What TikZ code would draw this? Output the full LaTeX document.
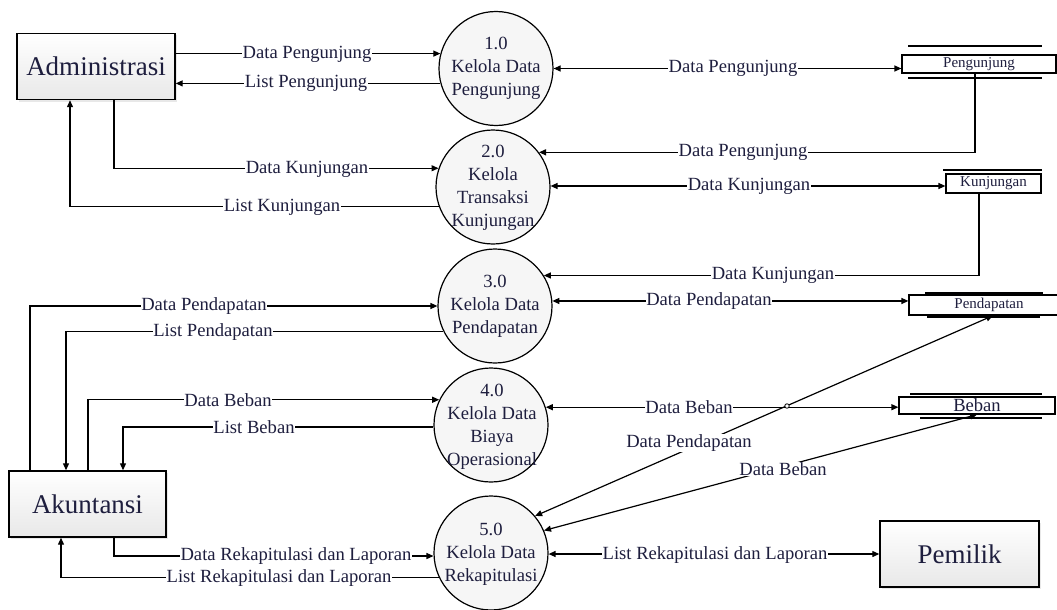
\documentclass[tikz,border=0pt]{standalone}
\usepackage{fontspec}
\setmainfont{Liberation Serif}
\usetikzlibrary{arrows.meta,shadows}
\definecolor{txt}{RGB}{30,30,62}
\begin{document}
\begin{tikzpicture}[x=1pt,y=-1pt,
  ext/.style={draw, line width=1.4pt, minimum width=158pt, minimum height=66pt, inner sep=0pt,
    top color=white, bottom color=gray!18,
    drop shadow={shadow xshift=2pt, shadow yshift=-2pt, fill=gray!35},
    font=\fontsize{27}{30}\selectfont, text=txt},
  proc/.style={circle, draw, line width=1.2pt, minimum size=114pt, inner sep=0pt, fill=gray!7},
  ptext/.style={align=center, font=\fontsize{18.6}{23}\selectfont, text=txt, inner sep=0pt},
  store/.style={draw, line width=1.2pt, fill=white, inner sep=0pt, text=txt, font=\fontsize{15}{15}\selectfont},
  sline/.style={line width=1.4pt},
  flow/.style={line width=1.2pt, -{Triangle[length=7pt,width=6pt]}},
  bi/.style={line width=1.2pt, {Triangle[length=7pt,width=6pt]}-{Triangle[length=7pt,width=6pt]}},
  lbl/.style={fill=white, inner sep=0.6pt, font=\fontsize{18.6}{20}\selectfont, text=txt}
]
\useasboundingbox (0,0) rectangle (1057,610);

% external entities
\node[ext] (adm) at (96,66.5) {Administrasi};
\node[ext, minimum width=157pt] (ak) at (87.5,504) {Akuntansi};
\node[ext, minimum width=159pt] (pm) at (959.5,554) {Pemilik};

% processes
\node[proc] (p1) at (496,68.5) {};
\node[ptext] (t1) at (496,68.5) {1.0\\Kelola Data\\Pengunjung};
\node[proc] (p2) at (493,187) {};
\node[ptext] (t2) at (493,187.5) {2.0\\Kelola\\Transaksi\\Kunjungan};
\node[proc] (p3) at (495,306) {};
\node[ptext] (t3) at (495,306.5) {3.0\\Kelola Data\\Pendapatan};
\node[proc] (p4) at (491,425) {};
\node[ptext] (t4) at (492,427) {4.0\\Kelola Data\\Biaya\\Operasional};
\node[proc] (p5) at (491,553) {};
\node[ptext] (t5) at (491,554.5) {5.0\\Kelola Data\\Rekapitulasi};

% data stores
\node[store, minimum width=154pt, minimum height=18pt] (sp) at (979,64) {Pengunjung};
\draw[sline] (908,46) -- (1042,46);
\draw[sline] (908,78) -- (1042,78);
\node[store, minimum width=95pt, minimum height=19pt] (sk) at (993.5,183.5) {Kunjungan};
\draw[sline] (943,170) -- (1042,170);
\node[store, minimum width=160pt, minimum height=20pt] (sd) at (989,305) {Pendapatan};
\draw[sline] (925,293) -- (1043,293);
\draw[sline] (927,317) -- (1040,317);
\node[store, minimum width=156pt, minimum height=17pt, font=\fontsize{18.6}{18}\selectfont] (sb) at (977,405.5) {Beban};
\draw[sline] (910,394) -- (1042,394);
\draw[sline] (920,418) -- (1042,418);

% helper x positions
\coordinate (c30) at (30,0);
\coordinate (c61) at (61,0);
\coordinate (c66) at (66,0);
\coordinate (c70) at (70,0);
\coordinate (c88) at (88,0);
\coordinate (c114) at (114,0);
\coordinate (c123) at (123,0);
\coordinate (c975) at (975,0);
\coordinate (c979) at (979,0);
\coordinate (c977) at (977,0);
\coordinate (c993) at (993,0);

% Administrasi flows
\draw[flow] (adm.east |- p1.165.9) -- (p1.165.9);
\draw[flow] (p1.195.1) -- (adm.east |- p1.195.1);
\draw[flow] (adm.south -| c114) |- (p2.161.75);
\draw[flow] (p2.200.35) -| (adm.south -| c70);

% Akuntansi flows
\draw[flow] (ak.north -| c30) |- (p3.west);
\draw[flow] (p3.206.9) -| (ak.north -| c66);
\draw[flow] (ak.north -| c88) |- (p4.154.2);
\draw[flow] (p4.182) -| (ak.north -| c123);
\draw[flow] (ak.south -| c114) |- (p5.183);
\draw[flow] (p5.205.8) -| (ak.south -| c61);

% store flows
\draw[bi] (p1.east) -- (sp.west |- p1.east);
\draw[flow] (sp.south -| c975) |- (p2.37.5);
\draw[bi] (p2.1) -- (sk.west |- p2.1);
\draw[flow] (sk.south -| c979) |- (p3.32.6);
\draw[bi] (p3.5) -- (sd.west |- p3.5);
\draw[bi] (p4.18) -- (sb.west |- p4.18);
\draw[bi] (p5.40) -- (sd.south -| c993);
\draw[bi] (p5.23) -- (sb.south -| c977);
\draw[bi] (p5.359) -- (pm.west |- p5.359);
\node[draw, circle, line width=0.8pt, fill=white, inner sep=0pt, minimum size=4.5pt] (hop) at (787,406) {};

% labels
\node[lbl] (l1) at (307,54) {Data Pengunjung};
\node[lbl] (l2) at (306,83) {List Pengunjung};
\node[lbl] (l3) at (307,169) {Data Kunjungan};
\node[lbl] (l4) at (282,207) {List Kunjungan};
\node[lbl] (l5) at (733,68) {Data Pengunjung};
\node[lbl] (l6) at (743,152) {Data Pengunjung};
\node[lbl] (l7) at (749,186) {Data Kunjungan};
\node[lbl] (l8) at (773,275) {Data Kunjungan};
\node[lbl] (l9) at (709,301) {Data Pendapatan};
\node[lbl] (l10) at (204,306) {Data Pendapatan};
\node[lbl] (l11) at (213,332) {List Pendapatan};
\node[lbl] (l12) at (228,400) {Data Beban};
\node[lbl] (l13) at (254,427) {List Beban};
\node[lbl] (l14) at (689,407) {Data Beban};
\node[lbl] (l15) at (689,443) {Data Pendapatan};
\node[lbl] (l16) at (783,469) {Data Beban};
\node[lbl] (l17) at (296,556) {Data Rekapitulasi dan Laporan};
\node[lbl] (l18) at (279,578) {List Rekapitulasi dan Laporan};
\node[lbl] (l19) at (715,555) {List Rekapitulasi dan Laporan};
\end{tikzpicture}
\end{document}
